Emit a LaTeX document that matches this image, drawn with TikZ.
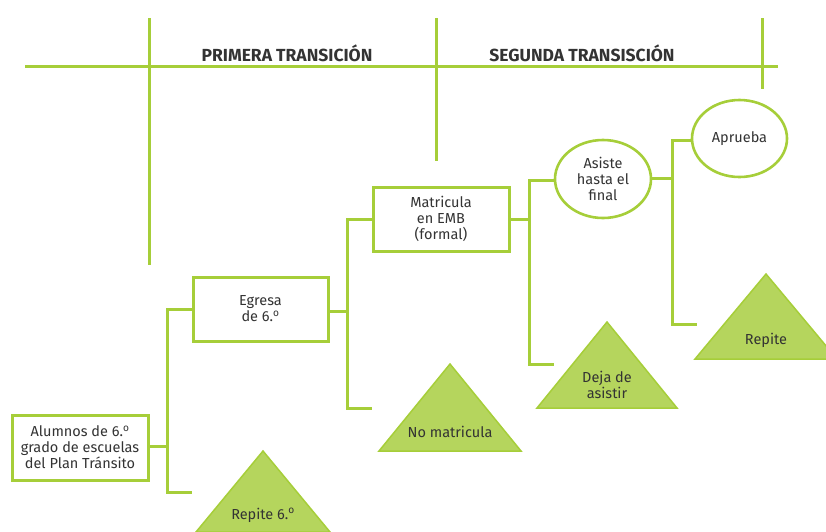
\documentclass[tikz,border=0pt]{standalone}
\usepackage{fontspec}
\setmainfont{Fira Sans}
\usetikzlibrary{shapes.geometric,calc}
\definecolor{lgreen}{HTML}{A6CE39}
\definecolor{tfill}{HTML}{B5D55D}
\definecolor{txt}{HTML}{333333}
\newcommand{\ord}{\textsuperscript{o}}
\begin{document}
\begin{tikzpicture}[x=1pt,y=-1pt,
  every node/.style={text=txt,font=\fontsize{14.5}{16}\selectfont,align=center,inner sep=0pt},
  stage/.style={draw=lgreen,line width=3pt,fill=white,rectangle},
  oval/.style={draw=lgreen,line width=2.6pt,fill=white,ellipse},
  conn/.style={draw=lgreen,line width=3pt},
  grid/.style={draw=lgreen,line width=3pt},
  tri/.style={fill=tfill,draw=lgreen,line width=1.5pt,line join=miter},
  head/.style={font=\fontsize{17.5}{20}\selectfont\bfseries}
]
\useasboundingbox (0,0) rectangle (826,531);
% header grid
\draw[grid] (25,66) -- (778,66);
\draw[grid] (149,18) -- (149,265);
\draw[grid] (436,18) -- (436,161);
\draw[grid] (762,18) -- (762,89);
\node[head] (h1) at (287,53) {PRIMERA TRANSICIÓN};
\node[head] (h2) at (582,53) {SEGUNDA TRANSISCIÓN};
% triangles
\draw[tri] (263,451) -- (330,532) -- (196,532) -- cycle;
\draw[tri] (450,364) -- (521,451) -- (379,451) -- cycle;
\draw[tri] (607,322) -- (677,408) -- (537,408) -- cycle;
\draw[tri] (766,274) -- (837,359) -- (695,359) -- cycle;
\node (t1) at (263,515) {Repite 6.\ord};
\node (t2) at (450,432) {No matricula};
\node (t3) at (607,385) {Deja de\\asistir};
\node (t4) at (766,340) {Repite};
% boxes
\node[stage,minimum width=136pt,minimum height=65pt] (alumnos) at (80,447.5) {Alumnos de 6.\ord\\grado de escuelas\\del Plan Tránsito};
\node[stage,minimum width=135pt,minimum height=64pt] (egresa) at (260.5,309) {Egresa\\de 6.\ord};
\node[stage,minimum width=136pt,minimum height=64pt] (matric) at (441,219) {Matricula\\en EMB\\(formal)};
\node[oval,minimum width=96pt,minimum height=78pt] (asiste) at (603,179) {Asiste\\hasta el\\final};
\node[oval,minimum width=95pt,minimum height=77pt] (aprueba) at (739.5,138.5) {Aprueba};
% connector ends
\coordinate (e1) at (192,492);
\coordinate (e2) at (372,408);
\coordinate (e3) at (554,364);
\coordinate (e4) at (697,324);
% connectors
\draw[conn] (alumnos.east |- 0,446) -- (167,446);
\draw[conn] (egresa.west) -- (167,309) -- (167,492) -- (e1);
\draw[conn] (egresa.east |- 0,311) -- (347,311);
\draw[conn] (matric.west) -- (347,219) -- (347,408) -- (e2);
\draw[conn] (matric.east) -- (529,219);
\draw[conn] (asiste.west |- 0,180) -- (529,180) -- (529,364) -- (e3);
\draw[conn] (asiste.east |- 0,178) -- (672,178);
\draw[conn] (aprueba.west |- 0,140) -- (672,140) -- (672,324) -- (e4);
\end{tikzpicture}
\end{document}
